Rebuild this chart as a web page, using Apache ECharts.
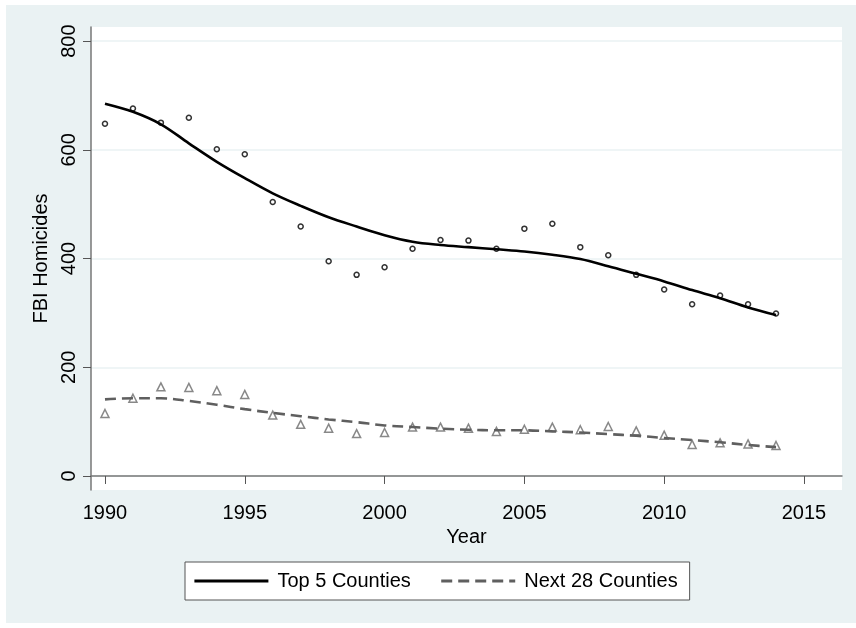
<!DOCTYPE html>
<html>
<head>
<meta charset="utf-8">
<script src="https://cdn.jsdelivr.net/npm/echarts@6/dist/echarts.min.js"></script>
<style>
html,body{margin:0;padding:0;background:#fff;}
#c{width:856px;height:628px;}
</style>
</head>
<body>
<div id="c"></div>
<script>
var years = [1990,1991,1992,1993,1994,1995,1996,1997,1998,1999,2000,2001,2002,2003,2004,2005,2006,2007,2008,2009,2010,2011,2012,2013,2014];
var top5 = [648,676,650,659,601,592,504,459,395,370,384,418,434,433,418,455,464,421,406,370,343,316,332,316,299];
var next28 = [115,143,164,163,157,150,112,95,88,78,80,90,90,88,82,86,90,85,91,83,75,58,61,59,56];
var top5Fit = [685,670,647,612,578,548,520,497,476,459,443,431,425,421,417,413,407,399,386,372,358,342,327,310,296];
var next28Fit = [141,143,143,138,131,123,116,110,104,99,93,90,87,85,84,84,82,80,77,74,70,66,62,57,53];
var xTicks = [1990,1995,2000,2005,2010,2015];
var yTicks = [0,200,400,600,800];

function pairs(xs, ys){ return xs.map(function(x,i){ return [x, ys[i]]; }); }

var FONT = "'Liberation Sans', Arial, sans-serif";
var chart = echarts.init(document.getElementById('c'), null, {renderer:'canvas'});
chart.setOption({
  backgroundColor: 'transparent',
  animation: false,
  textStyle: {fontFamily: FONT},
  graphic: [{
    type: 'rect', z: -10, silent: true,
    shape: {x: 6, y: 5, width: 850, height: 618},
    style: {fill: '#eaf2f3'}
  }],
  grid: {left: 91, top: 27, right: 14, bottom: 138, show: true, backgroundColor: '#ffffff', borderWidth: 0},
  xAxis: {
    type: 'value', min: 1989.5, max: 2016.36,
    name: 'Year', nameLocation: 'middle', nameGap: 33,
    nameTextStyle: {fontSize: 20, color: '#000', fontFamily: FONT},
    axisLine: {show: true, lineStyle: {color: '#777', width: 1.5}},
    axisTick: {show: true, length: 8, customValues: xTicks, lineStyle: {color: '#555', width: 1}},
    axisLabel: {customValues: xTicks, fontSize: 20, color: '#000', margin: 13, fontFamily: FONT,
      formatter: function(v){ return String(Math.round(v)); }},
    splitLine: {show: false}
  },
  yAxis: {
    type: 'value', min: -25.8, max: 826,
    name: 'FBI Homicides', nameLocation: 'middle', nameGap: 40, nameRotate: 90,
    nameTextStyle: {fontSize: 20, color: '#000', fontFamily: FONT},
    axisLine: {show: true, lineStyle: {color: '#777', width: 1.5}},
    axisTick: {show: true, length: 8, customValues: yTicks, lineStyle: {color: '#555', width: 1}},
    axisLabel: {customValues: yTicks, fontSize: 20, color: '#000', margin: 12, rotate: 90, fontFamily: FONT,
      formatter: function(v){ return String(Math.round(v)); }},
    splitLine: {show: false}
  },
  legend: {
    data: ['Top 5 Counties', 'Next 28 Counties'],
    left: 185, top: 562,
    padding: [9, 12, 9, 8],
    itemGap: 29, itemWidth: 74, itemHeight: 16,
    backgroundColor: '#fff', borderColor: '#555', borderWidth: 1, borderRadius: 0,
    itemStyle: {opacity: 0},
    lineStyle: {width: 2.8},
    textStyle: {fontSize: 20, color: '#000', fontFamily: FONT, padding: [0,0,0,4]}
  },
  series: [
    {
      name: 'Top 5 points', type: 'scatter', data: pairs(years, top5),
      symbol: 'circle', symbolSize: 5,
      itemStyle: {color: 'rgba(0,0,0,0)', borderColor: '#000', borderWidth: 1.5},
      z: 2,
      markLine: {
        silent: true, symbol: 'none', label: {show: false}, animation: false,
        lineStyle: {color: '#eaf2f3', width: 1.5, type: 'solid'},
        data: yTicks.map(function(v){ return {yAxis: v}; }),
        z: 0
      }
    },
    {
      name: 'Next 28 points', type: 'scatter', data: pairs(years, next28),
      symbol: 'triangle', symbolSize: 8,
      itemStyle: {color: 'rgba(0,0,0,0)', borderColor: '#6a6a6a', borderWidth: 1.5},
      z: 2
    },
    {
      name: 'Top 5 Counties', type: 'line', data: pairs(years, top5Fit),
      smooth: 0.35, symbol: 'none', showSymbol: false,
      lineStyle: {color: '#000', width: 2.6},
      itemStyle: {color: '#000'},
      z: 3
    },
    {
      name: 'Next 28 Counties', type: 'line', data: pairs(years, next28Fit),
      smooth: 0.35, symbol: 'none', showSymbol: false,
      lineStyle: {color: '#5f5f5f', width: 2.6, type: [11, 6]},
      itemStyle: {color: '#5f5f5f'},
      z: 3
    }
  ]
});
</script>
</body>
</html>
